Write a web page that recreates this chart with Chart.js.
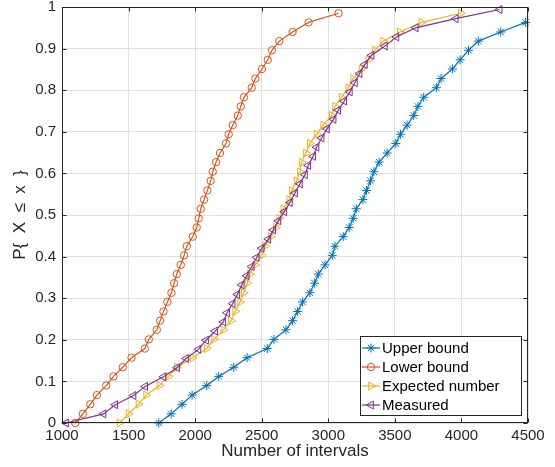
<!DOCTYPE html>
<html>
<head>
<meta charset="utf-8">
<script src="https://cdn.jsdelivr.net/npm/chart.js@4.4.1/dist/chart.umd.min.js"></script>
<style>
  html, body { margin: 0; padding: 0; background: #fff; }
  #wrap { width: 555px; height: 467px; position: relative; }
</style>
</head>
<body>
<div id="wrap"><canvas id="cdf"></canvas></div>
<script>
const FONT = "'Liberation Sans', Arial, Helvetica, sans-serif";

const xTicks = [1000, 1500, 2000, 2500, 3000, 3500, 4000, 4500];
const yTicks = [0, 0.1, 0.2, 0.3, 0.4, 0.5, 0.6, 0.7, 0.8, 0.9, 1];
const yTickLabels = ['0', '0.1', '0.2', '0.3', '0.4', '0.5', '0.6', '0.7', '0.8', '0.9', '1'];

// cumulative probability levels
const probModel = [0, 0.022, 0.045, 0.067, 0.090, 0.112, 0.134, 0.157, 0.179, 0.201,
  0.224, 0.246, 0.268, 0.291, 0.313, 0.336, 0.358, 0.380, 0.403, 0.425,
  0.448, 0.470, 0.492, 0.515, 0.537, 0.559, 0.582, 0.604, 0.627, 0.649,
  0.672, 0.694, 0.716, 0.739, 0.761, 0.783, 0.806, 0.828, 0.851, 0.873,
  0.896, 0.918, 0.940, 0.963, 0.985];
const probMeasured = [0, 0.022, 0.044, 0.066, 0.088, 0.111, 0.133, 0.155, 0.177, 0.199,
  0.221, 0.243, 0.265, 0.287, 0.309, 0.332, 0.354, 0.376, 0.398, 0.420,
  0.442, 0.464, 0.486, 0.508, 0.530, 0.553, 0.575, 0.597, 0.619, 0.641,
  0.663, 0.685, 0.707, 0.730, 0.752, 0.774, 0.796, 0.818, 0.840, 0.862,
  0.884, 0.906, 0.928, 0.950, 0.972, 0.994];

const upperX = [1727, 1820, 1902, 1977, 2087, 2177, 2290, 2390, 2542, 2592,
  2682, 2732, 2770, 2807, 2862, 2897, 2925, 2975, 3030, 3050,
  3112, 3157, 3187, 3210, 3260, 3287, 3317, 3342, 3382, 3442,
  3507, 3542, 3592, 3642, 3673, 3717, 3812, 3847, 3932, 3990,
  4053, 4127, 4295, 4482];
const lowerX = [1100, 1157, 1212, 1262, 1332, 1387, 1457, 1522, 1622, 1652,
  1712, 1737, 1762, 1792, 1822, 1842, 1862, 1892, 1917, 1937,
  1982, 2012, 2027, 2042, 2067, 2092, 2117, 2132, 2157, 2187,
  2232, 2252, 2282, 2320, 2342, 2367, 2425, 2452, 2502, 2545,
  2577, 2632, 2732, 2852, 3077];
const expectedX = [1432, 1500, 1575, 1632, 1732, 1800, 1862, 1980, 2087, 2142,
  2212, 2270, 2300, 2337, 2365, 2392, 2410, 2450, 2500, 2525,
  2567, 2607, 2632, 2662, 2707, 2725, 2762, 2787, 2800, 2832,
  2862, 2912, 2962, 3025, 3050, 3100, 3150, 3187, 3250, 3300,
  3350, 3412, 3537, 3700, 3995];
const measuredX = [1030, 1312, 1400, 1537, 1625, 1762, 1865, 1932, 2025, 2082,
  2150, 2212, 2240, 2282, 2317, 2350, 2387, 2425, 2462, 2500,
  2550, 2587, 2625, 2670, 2712, 2750, 2787, 2825, 2850, 2887,
  2912, 2950, 2990, 3040, 3075, 3120, 3162, 3200, 3235, 3275,
  3325, 3425, 3512, 3657, 3957, 4287];

const pts = (xs, ys) => xs.map((x, i) => ({ x, y: ys[i] }));

const series = [
  { label: 'Upper bound', color: '#0072BD', style: 'star', rot: 0, r: 4.5, data: pts(upperX, probModel), order: 3 },
  { label: 'Lower bound', color: '#D95319', style: 'circle', rot: 0, r: 3.7, data: pts(lowerX, probModel), order: 2 },
  { label: 'Expected number', color: '#EDB120', style: 'triangle', rot: 90, r: 4.6, data: pts(expectedX, probModel), order: 1 },
  { label: 'Measured', color: '#7E2F8E', style: 'triangle', rot: -90, r: 4.6, data: pts(measuredX, probMeasured), order: 0 },
];

function marker(ctx, s, x, y) {
  ctx.strokeStyle = s.color;
  ctx.fillStyle = 'rgba(0,0,0,0)';
  ctx.lineWidth = 1;
  Chart.helpers.drawPoint(ctx, { pointStyle: s.style, rotation: s.rot, radius: s.r, borderWidth: 1 }, x, y);
}

const framePlugin = {
  id: 'frame',
  afterDraw(chart) {
    const { ctx, chartArea: a, scales } = chart;
    const L = Math.round(a.left) + 0.5, R = Math.round(a.right) - 0.5;
    const T = Math.round(a.top) + 0.5, B = Math.round(a.bottom) - 0.5;
    ctx.save();
    ctx.strokeStyle = '#262626';
    ctx.lineWidth = 1;
    ctx.strokeRect(L, T, R - L, B - T);
    ctx.beginPath();
    xTicks.forEach((v) => {
      const px = Math.round(scales.x.getPixelForValue(v)) + 0.5;
      ctx.moveTo(px, B); ctx.lineTo(px, B - 4);
      ctx.moveTo(px, T); ctx.lineTo(px, T + 4);
    });
    yTicks.forEach((v) => {
      const py = Math.round(scales.y.getPixelForValue(v)) + 0.5;
      ctx.moveTo(L, py); ctx.lineTo(L + 4, py);
      ctx.moveTo(R, py); ctx.lineTo(R - 4, py);
    });
    ctx.stroke();

    // legend box, inside lower right
    const bx = 360.5, by = 336.5, bw = 161, bh = 79;
    ctx.fillStyle = '#fff';
    ctx.fillRect(bx, by, bw, bh);
    ctx.strokeStyle = '#262626';
    ctx.strokeRect(bx, by, bw, bh);
    ctx.font = '15px ' + FONT;
    ctx.textBaseline = 'middle';
    ctx.textAlign = 'left';
    series.forEach((s, i) => {
      const y = 348 + i * 19;
      ctx.strokeStyle = s.color;
      ctx.lineWidth = 1.2;
      ctx.beginPath();
      ctx.moveTo(362, y); ctx.lineTo(380, y);
      ctx.stroke();
      marker(ctx, s, 371, y);
      ctx.fillStyle = '#000';
      ctx.fillText(s.label, 382, y + 1);
    });
    ctx.restore();
  },
};

new Chart(document.getElementById('cdf'), {
  type: 'scatter',
  data: {
    datasets: series.map((s) => ({
      label: s.label,
      data: s.data,
      order: s.order,
      showLine: true,
      borderColor: s.color,
      borderWidth: 1.2,
      backgroundColor: 'rgba(0,0,0,0)',
      pointStyle: s.style,
      pointRotation: s.rot,
      pointRadius: s.r,
      pointHoverRadius: s.r,
      pointBorderWidth: 1,
      pointBorderColor: s.color,
      pointBackgroundColor: 'rgba(0,0,0,0)',
      tension: 0,
      clip: false,
    })),
  },
  options: {
    responsive: true,
    maintainAspectRatio: false,
    animation: false,
    events: [],
    layout: { padding: { left: 0, right: 27, top: 7, bottom: 0 } },
    plugins: { legend: { display: false }, tooltip: { enabled: false } },
    scales: {
      x: {
        type: 'linear', min: 1000, max: 4500,
        afterBuildTicks: (s) => { s.ticks = xTicks.map((v) => ({ value: v })); },
        afterFit: (s) => { s.height = 44; s.paddingLeft = 0; s.paddingRight = 0; },
        ticks: { color: '#262626', font: { family: FONT, size: 15 }, padding: 4, maxRotation: 0, autoSkip: false, callback: (v) => String(v) },
        grid: { color: '#dfdfdf', drawTicks: false },
        border: { display: false },
        title: { display: true, text: 'Number of intervals', color: '#262626', font: { family: FONT, size: 17 }, padding: { top: 0, bottom: 5 } },
      },
      y: {
        type: 'linear', min: 0, max: 1,
        afterBuildTicks: (s) => { s.ticks = yTicks.map((v) => ({ value: v })); },
        afterFit: (s) => { s.width = 62; s.paddingTop = 0; s.paddingBottom = 0; },
        ticks: { color: '#262626', font: { family: FONT, size: 15 }, padding: 6, autoSkip: false, callback: (v, i) => yTickLabels[i] },
        grid: { color: '#dfdfdf', drawTicks: false },
        border: { display: false },
        title: { display: true, text: 'P{  X  \u2264  x  }', color: '#262626', font: { family: FONT, size: 17 }, padding: { top: 10, bottom: 0 } },
      },
    },
  },
  plugins: [framePlugin],
});
</script>
</body>
</html>
